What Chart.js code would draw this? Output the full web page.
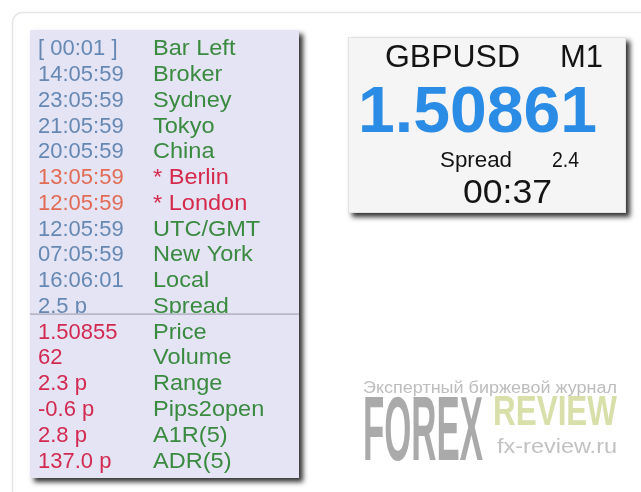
<!DOCTYPE html>
<html>
<head>
<meta charset="utf-8">
<script src="https://cdn.jsdelivr.net/npm/chart.js@4/dist/chart.umd.min.js"></script>
<style>
  html, body { margin: 0; padding: 0; background: #ffffff; }
  #wrap { position: relative; width: 641px; height: 492px; }
  canvas { display: block; }
</style>
</head>
<body>
<div id="wrap"><canvas id="c" width="641" height="492"></canvas></div>
<script>
// ---- data ----
const rowNames  = ['Bar Left','Broker','Sydney','Tokyo','China','* Berlin','* London','UTC/GMT','New York','Local','Spread',
                   'Price','Volume','Range','Pips2open','A1R(5)','ADR(5)'];
const rowValues = ['[ 00:01 ]','14:05:59','23:05:59','21:05:59','20:05:59','13:05:59','12:05:59','12:05:59','07:05:59','16:06:01','2.5 p',
                   '1.50855','62','2.3 p','-0.6 p','2.8 p','137.0 p'];
const symbolInfo = ['GBPUSD', 'M1'];
const bidPrice   = ['1.50861'];
const spreadInfo = ['Spread', '2.4'];
const countdown  = ['00:37'];
const watermark  = ['Экспертный биржевой журнал', 'FOREX', 'REVIEW', 'fx-review.ru'];

// ---- styles (kept apart from the data) ----
const alertRows = [5, 6];      // highlighted sessions
const statsStart = 11;         // first row of the lower (statistics) block
const COL = {
  time: '#6688b2', name: '#3a8a40', alertVal: '#e26b56', alertName: '#d52a4b',
  stat: '#d22a50', panel: '#e4e4f5', divider: '#a4a4b6', box: '#f5f5f5',
  black: '#141414', blue: '#2b8ce6'
};
const FONT = '"Liberation Sans", Arial, sans-serif';

function shadowRect(ctx, x, y, w, h, fill) {
  ctx.save();
  ctx.shadowColor = 'rgba(30,30,30,0.9)';
  ctx.shadowBlur = 5;
  ctx.shadowOffsetX = 4;
  ctx.shadowOffsetY = 4;
  ctx.fillStyle = fill;
  ctx.fillRect(x, y, w, h);
  ctx.restore();
}

function txt(ctx, s, x, y, font, color, sx, align) {
  ctx.save();
  ctx.font = font;
  ctx.fillStyle = color;
  ctx.textBaseline = 'middle';
  ctx.textAlign = align || 'left';
  ctx.translate(x, y);
  ctx.scale(sx || 1, 1);
  ctx.fillText(s, 0, 0);
  ctx.restore();
}

function fitTxt(ctx, s, x, y, font, color, width, baseline) {
  ctx.save();
  ctx.font = font;
  const w = ctx.measureText(s).width;
  ctx.fillStyle = color;
  ctx.textBaseline = baseline || 'alphabetic';
  ctx.translate(x, y);
  ctx.scale(width / w, 1);
  ctx.fillText(s, 0, 0);
  ctx.restore();
}

const panelPlugin = {
  id: 'panel',
  afterDraw(chart) {
    const ctx = chart.ctx;
    const ys = chart.scales.y;
    // outer faint frame
    ctx.save();
    ctx.strokeStyle = '#e6e6e6';
    ctx.lineWidth = 1.5;
    ctx.beginPath();
    ctx.roundRect(12.5, 12.5, 700, 600, 10);
    ctx.stroke();
    ctx.restore();

    // left info panel
    shadowRect(ctx, 30, 30, 269, 448, COL.panel);
    const xv = 38, xn = 153;
    const fRow = '22px ' + FONT;
    rowNames.forEach((name, i) => {
      const y = ys.getPixelForValue(i);
      let vc = COL.time, nc = COL.name;
      if (alertRows.includes(i)) { vc = COL.alertVal; nc = COL.alertName; }
      if (i >= statsStart) { vc = COL.stat; }
      ctx.save();
      if (i < statsStart) { ctx.beginPath(); ctx.rect(30, 30, 269, 283.5); ctx.clip(); }
      txt(ctx, rowValues[i], xv, y, fRow, vc, 1.0);
      txt(ctx, name, xn, y, fRow, nc, 1.07);
      ctx.restore();
    });
    // divider
    ctx.save();
    ctx.fillStyle = COL.divider;
    ctx.fillRect(30, 313.5, 269, 1.2);
    ctx.restore();

    // right quote box
    shadowRect(ctx, 348, 37, 278, 176, COL.box);
    ctx.save();
    ctx.strokeStyle = '#e2e2e2';
    ctx.strokeRect(348.5, 37.5, 277, 175);
    ctx.restore();
    fitTxt(ctx, symbolInfo[0], 385, 67, '32px ' + FONT, COL.black, 135);
    fitTxt(ctx, symbolInfo[1], 560, 67, '32px ' + FONT, COL.black, 43);
    fitTxt(ctx, bidPrice[0], 358, 132, 'bold 64px ' + FONT, COL.blue, 239);
    fitTxt(ctx, spreadInfo[0], 440, 167, '22px ' + FONT, COL.black, 72);
    fitTxt(ctx, spreadInfo[1], 552, 167, '22px ' + FONT, COL.black, 27);
    fitTxt(ctx, countdown[0], 463, 203, '33px ' + FONT, COL.black, 89);

    // watermark
    fitTxt(ctx, watermark[0], 363, 393, '16px ' + FONT, '#bdbdbd', 254);
    fitTxt(ctx, watermark[1], 363, 460, 'bold 91px ' + FONT, '#aaaaaa', 120);
    fitTxt(ctx, watermark[2], 493, 425, 'bold 42px ' + FONT, '#d8dfa8', 124);
    fitTxt(ctx, watermark[3], 497, 453, '20px ' + FONT, '#c2c2c2', 120);
  }
};

new Chart(document.getElementById('c'), {
  type: 'bar',
  data: {
    labels: rowNames,
    datasets: [{ label: 'rows', data: rowValues.map(() => null) }]
  },
  options: {
    indexAxis: 'y',
    responsive: false,
    animation: false,
    events: [],
    layout: { padding: { top: 36.3, bottom: 17.6, left: 30, right: 342 } },
    plugins: { legend: { display: false }, tooltip: { enabled: false } },
    scales: {
      x: { display: false, min: 0, max: 1 },
      y: { display: false, offset: true }
    }
  },
  plugins: [panelPlugin]
});
</script>
</body>
</html>
